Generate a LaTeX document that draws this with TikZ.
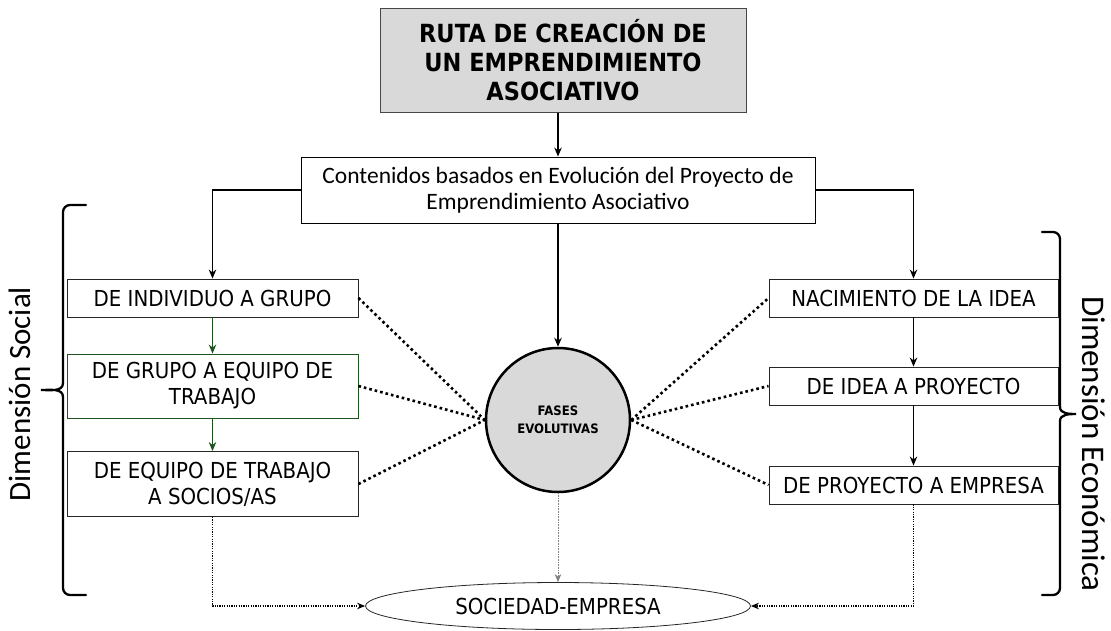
\documentclass[tikz,border=0pt]{standalone}
\usepackage{fontspec}
\setmainfont{DejaVu Sans}[FakeStretch=0.9]
\newfontfamily\calfont{Carlito}
\usepackage{tikz}
\definecolor{fasegray}{RGB}{217,217,217}
\definecolor{bordergray}{RGB}{70,70,70}
\definecolor{flechagreen}{RGB}{30,85,30}
\usetikzlibrary{arrows.meta}
\usetikzlibrary{shapes}
\tikzset{titulo/.style={rectangle,draw=bordergray,fill=fasegray,line width=1pt,minimum width=366pt,minimum height=104pt,align=center,font=\fontsize{25}{29}\selectfont\bfseries}}
\tikzset{contenido/.style={rectangle,draw=black,line width=0.9pt,minimum width=514pt,minimum height=66pt,align=center,font=\calfont\fontsize{23.5}{26}\selectfont}}
\tikzset{paso/.style={rectangle,draw=black!85,line width=0.9pt,minimum width=291pt,minimum height=38pt,inner sep=2pt,align=center,font=\fontsize{22}{26}\selectfont}}
\tikzset{fase/.style={circle,draw=black,fill=fasegray,line width=2.5pt,minimum size=144pt,inner sep=0pt,align=center,font=\fontsize{13}{18}\selectfont\bfseries}}
\tikzset{meta/.style={ellipse,draw=black!85,line width=0.8pt,minimum width=385pt,minimum height=47pt,inner sep=0pt,font=\fontsize{22}{24}\selectfont}}
\tikzset{flecha/.style={black,line width=1.3pt,-{Stealth[length=9pt,width=7.5pt]}}}
\tikzset{flechaverde/.style={flecha,draw=flechagreen,fill=flechagreen}}
\tikzset{enlace/.style={line width=2.6pt,dash pattern=on 2.6pt off 3pt}}
\tikzset{puntos/.style={-{Stealth[length=8pt,width=6.5pt]},line width=1.2pt,dash pattern=on 1.2pt off 1.2pt}}
\tikzset{llave/.style={line width=2.3pt,line cap=round}}
\tikzset{dimension/.style={font=\calfont\fontsize{31}{36}\selectfont}}

\begin{document}
\begin{tikzpicture}[x=1pt,y=-1pt]
  \useasboundingbox (0,0) rectangle (1111,630);

  % Title and contents
  \node[titulo] (ruta) at (563,60) {RUTA DE CREACIÓN DE\\UN EMPRENDIMIENTO\\ASOCIATIVO};
  \node[contenido] (contenidos) at (558,190) {Contenidos basados en Evolución del Proyecto de\\Emprendimiento Asociativo};

  % Social dimension
  \node[paso] (individuo) at (212.5,298) {DE INDIVIDUO A GRUPO};
  \node[paso,minimum height=64pt,draw=flechagreen] (grupo) at (212.5,386) {DE GRUPO A EQUIPO DE\\TRABAJO};
  \node[paso,minimum height=65pt] (equipo) at (212.5,484) {DE EQUIPO DE TRABAJO\\A SOCIOS/AS};

  % Economic dimension
  \node[paso,minimum width=289pt] (idea) at (913.5,298) {NACIMIENTO DE LA IDEA};
  \node[paso,minimum width=289pt] (proyecto) at (913.5,386) {DE IDEA A PROYECTO};
  \node[paso,minimum width=289pt] (empresa) at (913.5,485) {DE PROYECTO A EMPRESA};

  % Center
  \node[fase] (fases) at (558,420) {FASES\\EVOLUTIVAS};
  \node[meta] (sociedad) at (558,606) {SOCIEDAD-EMPRESA};

  % Arrows
  \draw[flecha] (ruta.south -| contenidos) -- (contenidos.north);
  \draw[flecha] (contenidos.west) -| (individuo.north);
  \draw[flecha] (contenidos.east) -| (idea.north);
  \draw[flecha] (contenidos.south) -- (fases.north);
  \draw[flechaverde] (individuo) -- (grupo);
  \draw[flechaverde] (grupo) -- (equipo);
  \draw[flecha] (idea) -- (proyecto);
  \draw[flecha] (proyecto) -- (empresa);

  % Links to the phases
  \foreach \b in {individuo,grupo,equipo}
    \draw[enlace] (\b.east) -- (fases.west);
  \foreach \b in {idea,proyecto,empresa}
    \draw[enlace] (fases.east) -- (\b.west);

  % To the company
  \draw[puntos] (equipo.south) |- (sociedad.west);
  \draw[puntos] (empresa.south) |- (sociedad.east);
  \draw[puntos,gray,line width=0.6pt,dash pattern=on 0.8pt off 0.8pt] (fases.south) -- (sociedad.north);

  % Braces
  \draw[llave] (86,205) -- (70,205) to[out=180,in=90] (63,212) -- (63,383)
    to[out=-90,in=0] (41,390) to[out=0,in=90] (63,397) -- (63,588)
    to[out=-90,in=180] (70,595) -- (86,595);
  \draw[llave] (1042,232) -- (1053,232) to[out=0,in=90] (1060,239) -- (1060,407)
    to[out=-90,in=180] (1076,414) to[out=180,in=90] (1060,421) -- (1060,588)
    to[out=-90,in=0] (1053,595) -- (1042,595);
  \node[dimension,rotate=90] (social) at (20,394) {Dimensión Social};
  \node[dimension,rotate=-90,font=\calfont\fontsize{33}{38}\selectfont] (economica) at (1094,444) {Dimensión Económica};
\end{tikzpicture}
\end{document}
